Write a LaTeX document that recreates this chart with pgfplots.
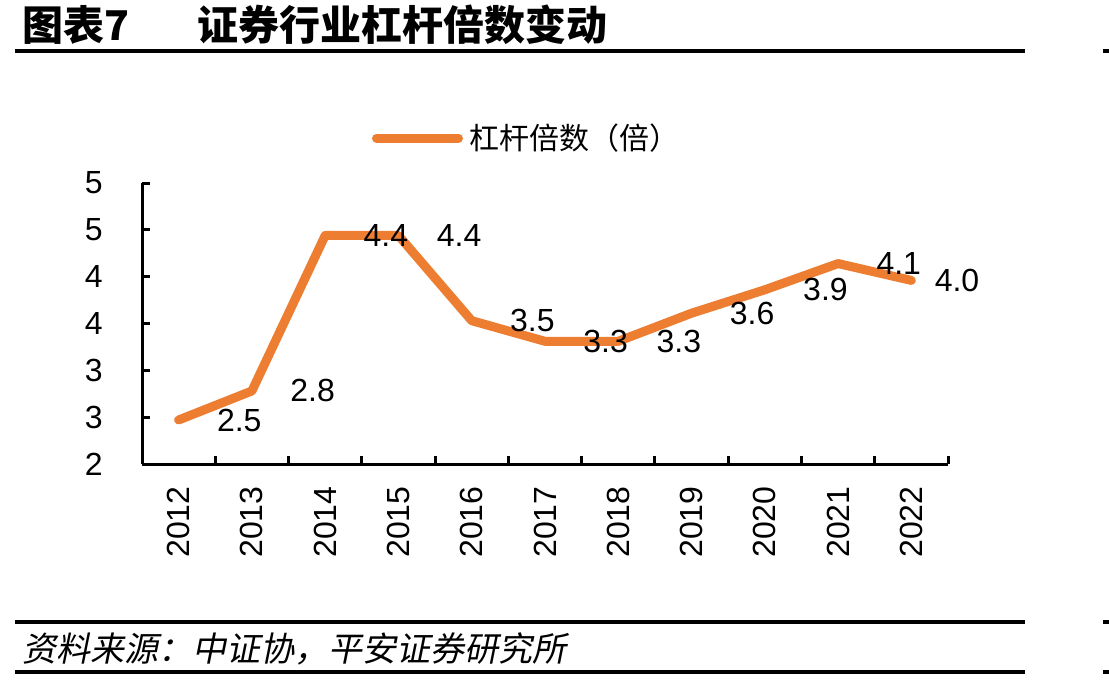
\documentclass[border=0pt]{standalone}
\usepackage{fontspec}
\usepackage{pgfplots}
\usepackage{pgfplotstable}
\pgfplotsset{compat=1.18}
\setmainfont{Liberation Sans}
\newfontfamily\cjk{Noto Sans CJK SC}
\newfontfamily\cjkit[FakeSlant=0.2]{Noto Sans CJK SC}
\definecolor{lineorange}{RGB}{237,125,49}

% leverage multiple of the securities industry, 2012-2022
\pgfplotstableread{
x  year  lev
0  2012  2.47
1  2013  2.78
2  2014  4.44
3  2015  4.44
4  2016  3.53
5  2017  3.31
6  2018  3.31
7  2019  3.61
8  2020  3.86
9  2021  4.14
10 2022  3.96
}\levtable

\begin{document}
\begin{tikzpicture}
\path[use as bounding box] (0,0) rectangle (554.5bp,-340bp);

% header
\node[anchor=west, inner sep=0pt, font={\cjk\bfseries\fontsize{20.5bp}{21bp}\selectfont}] at (11bp,-12.5bp) {图表7};
\node[anchor=west, inner sep=0pt, font={\cjk\bfseries\fontsize{20.5bp}{21bp}\selectfont}] at (98.5bp,-12.5bp) {证券行业杠杆倍数变动};
\draw[line width=1.75bp] (7.5bp,-25.5bp) -- (512.5bp,-25.5bp);
\draw[line width=1.75bp] (551.5bp,-25.5bp) -- (554.5bp,-25.5bp);

% footer
\draw[line width=1.75bp] (7.5bp,-311bp) -- (512.5bp,-311bp);
\draw[line width=1.75bp] (551.5bp,-311bp) -- (554.5bp,-311bp);
\node[anchor=west, inner sep=0pt, font={\cjkit\fontsize{17bp}{18bp}\selectfont}] at (11bp,-324.5bp) {资料来源：中证协，平安证券研究所};
\draw[line width=1.75bp] (7.5bp,-336bp) -- (512.5bp,-336bp);
\draw[line width=1.75bp] (551.5bp,-336bp) -- (554.5bp,-336bp);

\begin{axis}[
  at={(71bp,-232bp)}, anchor=south west,
  scale only axis, width=403bp, height=140.5bp,
  xmin=-0.5, xmax=10.5, ymin=2, ymax=5,
  axis x line*=bottom, axis y line*=left,
  axis line style={line width=1.5bp, black},
  tick style={line width=1.5bp, black},
  tick align=inside, major tick length=4bp,
  xtick={-0.5,0.5,...,10.5},
  x tick label as interval,
  xticklabels={2012,2013,2014,2015,2016,2017,2018,2019,2020,2021,2022},
  ytick={2,2.5,...,5},
  yticklabels={2,3,3,4,4,5,5},
  ticklabel style={font=\fontsize{16bp}{17bp}\selectfont, inner sep=0pt},
  xticklabel style={rotate=90, anchor=east},
  yticklabel style={anchor=east},
  xticklabel shift=11bp,
  yticklabel shift=19.5bp,
  clip=false,
  legend style={at={(0.4764,1.16)}, anchor=center, draw=none, fill=none,
    font={\cjk\fontsize{15bp}{16bp}\selectfont},
    nodes={inner sep=0pt}, column sep=3.5bp},
  legend image code/.code={\draw[#1, line width=4.5bp, line cap=round] (0bp,0bp) -- (41bp,0bp);},
]
\addplot[lineorange, line width=4.5bp, line cap=round, line join=round] table[x=x, y=lev] {\levtable};
\addlegendentry{杠杆倍数（倍）}

% value labels
\addplot[draw=none, forget plot, restrict x to domain=0:9,
  point meta=y, nodes near coords,
  nodes near coords style={anchor=west, inner sep=0pt, xshift=19bp, black,
    font=\fontsize{16bp}{17bp}\selectfont,
    /pgf/number format/.cd, fixed, fixed zerofill, precision=1, assume math mode=true}]
  table[x=x, y=lev] {\levtable};
\addplot[draw=none, forget plot, restrict x to domain=10:10,
  point meta=y, nodes near coords,
  nodes near coords style={anchor=west, inner sep=0pt, xshift=11.5bp, black,
    font=\fontsize{16bp}{17bp}\selectfont,
    /pgf/number format/.cd, fixed, fixed zerofill, precision=1, assume math mode=true}]
  table[x=x, y=lev] {\levtable};
\end{axis}
\end{tikzpicture}
\end{document}
